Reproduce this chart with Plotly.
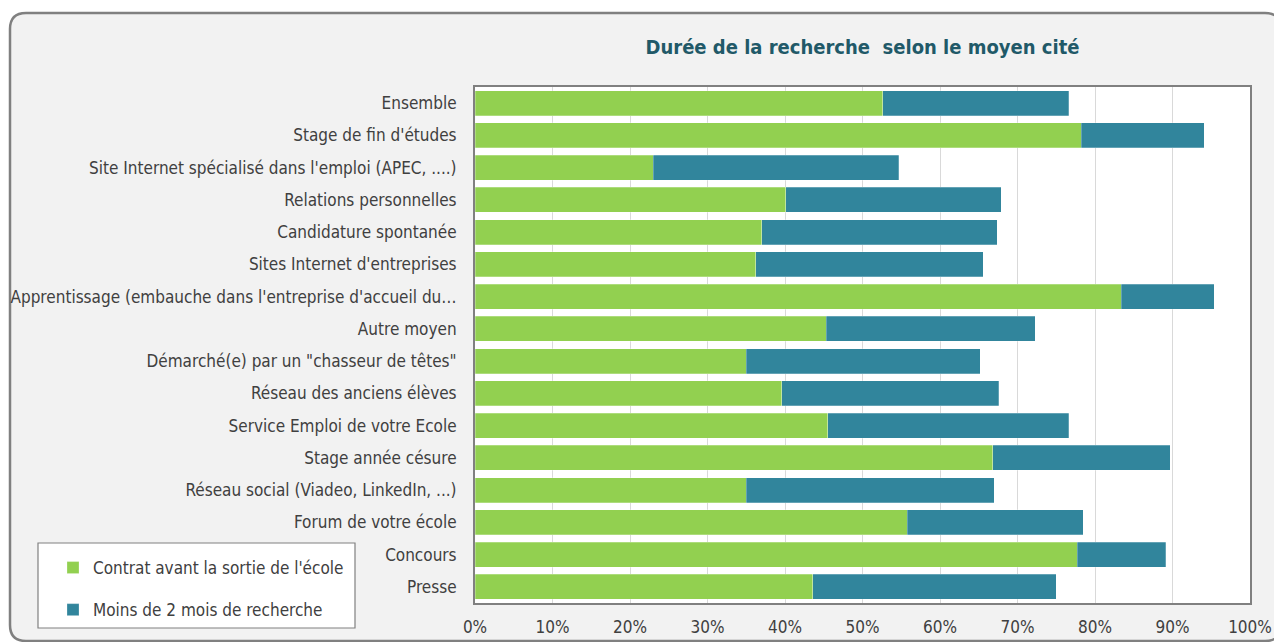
import plotly.graph_objects as go

# categories from top to bottom
categories = [
    "Ensemble",
    "Stage de fin d'études",
    "Site Internet spécialisé dans l'emploi (APEC, ....)",
    "Relations personnelles",
    "Candidature spontanée",
    "Sites Internet d'entreprises",
    "Apprentissage (embauche dans l'entreprise d'accueil du…",
    "Autre moyen",
    "Démarché(e) par un \"chasseur de têtes\"",
    "Réseau des anciens élèves",
    "Service Emploi de votre Ecole",
    "Stage année césure",
    "Réseau social (Viadeo, LinkedIn, ...)",
    "Forum de votre école",
    "Concours",
    "Presse",
]
# share of graduates (%) - contract signed before leaving school
contrat_avant = [52.6, 78.2, 23.0, 40.1, 37.0, 36.2, 83.4, 45.3,
                 35.0, 39.6, 45.5, 66.8, 35.0, 55.8, 77.7, 43.6]
# share of graduates (%) - less than 2 months of search
moins_2_mois = [24.0, 15.9, 31.7, 27.8, 30.4, 29.4, 12.0, 27.0,
                30.2, 28.0, 31.1, 22.9, 32.0, 22.7, 11.4, 31.4]
series_names = ["Contrat avant la sortie de l'école", "Moins de 2 mois de recherche"]
tick_vals = [0, 10, 20, 30, 40, 50, 60, 70, 80, 90, 100]
tick_text = [f"{v}%" for v in tick_vals]

# the page body adds an 8px margin, so the figure is made 8px smaller
OFF = 8
W, H = 1282 - OFF, 642 - OFF
# plot area in screen pixels
L, R, T, B = 475, 1250, 87, 603
FONT = "DejaVu Sans Condensed, Liberation Sans Narrow, sans-serif"


def px(x):
    return (x - L) / (R - L)


def py(y):
    return (B - y) / (B - T)


fig = go.Figure()
fig.add_trace(go.Bar(
    y=categories, x=contrat_avant, orientation="h", name=series_names[0],
    marker=dict(color="#92d050", line=dict(color="rgba(255,255,255,0.5)", width=0.5)),
    legendgroup="a",
))
fig.add_trace(go.Bar(
    y=categories, x=moins_2_mois, orientation="h", name=series_names[1],
    marker=dict(color="#31859c", line=dict(color="rgba(255,255,255,0.5)", width=0.5)),
    legendgroup="b",
))

# rounded outer frame of the chart
x0, y0, x1, y1, r = 10, 13, 1281, 641, 16
rx = r / (R - L)
ry = r / (B - T)
X0, X1, Y0, Y1 = px(x0), px(x1), py(y0), py(y1)
path = (
    f"M {X0 + rx},{Y0} L {X1 - rx},{Y0} Q {X1},{Y0} {X1},{Y0 - ry} "
    f"L {X1},{Y1 + ry} Q {X1},{Y1} {X1 - rx},{Y1} "
    f"L {X0 + rx},{Y1} Q {X0},{Y1} {X0},{Y1 + ry} "
    f"L {X0},{Y0 - ry} Q {X0},{Y0} {X0 + rx},{Y0} Z"
)
fig.add_shape(type="path", path=path, xref="paper", yref="paper",
              fillcolor="#f2f2f2", line=dict(color="#808080", width=2.5), layer="below")
fig.add_shape(type="rect", x0=0, x1=1, y0=0, y1=1, xref="paper", yref="paper",
              fillcolor="white", line=dict(width=0), layer="below")
# legend box
fig.add_shape(type="rect", x0=px(38), x1=px(355), y0=py(628), y1=py(543),
              xref="paper", yref="paper", fillcolor="white",
              line=dict(color="#808080", width=1.2), layer="below")

fig.update_layout(
    width=W, height=H,
    margin=dict(l=L - OFF, r=W - (R - OFF), t=T - OFF, b=H - (B - OFF), pad=0,
                autoexpand=False),
    barmode="stack",
    bargap=0.22,
    paper_bgcolor="white",
    plot_bgcolor="rgba(0,0,0,0)",
    font=dict(family=FONT, size=17, color="#404040"),
    title=dict(
        text="<b>Durée de la recherche  selon le moyen cité</b>",
        font=dict(family=FONT, size=20, color="#215968"),
        x=0.5, xref="paper", xanchor="center",
        y=1 - (47 - OFF) / H, yanchor="middle",
    ),
    legend=dict(
        x=px(53), y=py(550), xanchor="left", yanchor="top",
        bgcolor="rgba(0,0,0,0)", borderwidth=0,
        font=dict(family=FONT, size=17, color="#404040"),
        traceorder="grouped", tracegroupgap=17,
        itemwidth=30,
    ),
    showlegend=True,
)
fig.update_xaxes(
    range=[0, 100], tickvals=tick_vals, ticktext=tick_text,
    showgrid=True, gridcolor="#d9d9d9", gridwidth=1,
    showline=True, linecolor="#808080", linewidth=2, mirror=True,
    zeroline=False, ticks="", ticklabelstandoff=8, automargin=False,
    tickfont=dict(family=FONT, size=17, color="#404040"),
)
fig.update_yaxes(
    categoryorder="array", categoryarray=categories, autorange="reversed",
    showgrid=False, showline=True, linecolor="#808080", linewidth=2, mirror=True,
    ticks="", ticklabelstandoff=13, automargin=False,
    tickfont=dict(family=FONT, size=17, color="#404040"),
)

fig.write_html("out.html")
